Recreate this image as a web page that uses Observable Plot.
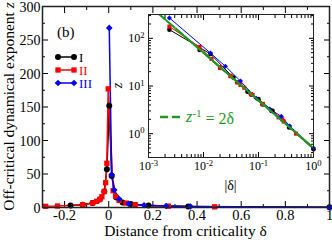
<!DOCTYPE html>
<html><head><meta charset="utf-8">
<script src="https://cdn.jsdelivr.net/npm/d3@7"></script>
<script src="https://cdn.jsdelivr.net/npm/@observablehq/plot@0.6"></script>
<style>
html,body{margin:0;padding:0;background:#fff;}
#wrap{position:relative;width:332px;height:240px;overflow:hidden;background:#fff;}
#wrap svg{position:absolute;}
</style></head><body><div id="wrap"></div>
<script>
const seriesNames = ["I", "II", "III"];
const seriesColors = ["#000000", "#ff0000", "#0000ff"];
const seriesSymbols = ["circle", "square", "diamond2"];

const deltaI = [-0.173, -0.118, -0.073, -0.041, -0.02, -0.0085, 0.0024, 0.0134, 0.035, 0.063, 0.10, 0.18, 0.36, 1.0];
const zI     = [3.0, 4.1, 6.6, 12, 24, 57, 152, 47, 15, 7.6, 5.3, 3.0, 1.35, 0.47];

const deltaII = [-0.286, -0.232, -0.118, -0.073, -0.055, -0.041, -0.031, -0.02, -0.014, -0.0085, -0.0024, 0.02, 0.031, 0.047, 0.078, 0.12, 0.27, 0.48];
const zII     = [1.8, 2.2, 4.2, 6.8, 9.2, 12, 16, 24, 37, 66, 177, 25, 16.5, 10.5, 6.5, 4.2, 2.0, 1.0];

const deltaIII = [0.0024, 0.0134, 0.025, 0.047, 0.09, 0.16, 0.26, 0.37, 1.0];
const zIII     = [268, 49, 26, 12.7, 5.6, 3.3, 2.3, 1.45, 0.5];

const fitDelta = [0.001, 1];
const fitZ = [500, 0.5];

const xTicks = [-0.2, 0, 0.2, 0.4, 0.6, 0.8, 1];
const xMinorTicks = [-0.3, -0.1, 0.1, 0.3, 0.5, 0.7, 0.9];
const yTicks = [0, 50, 100, 150, 200, 250, 300];
const yMinorTicks = [25, 75, 125, 175, 225, 275];
const insetXTicks = [0.001, 0.01, 0.1, 1];
const insetYTicks = [1, 10, 100];

const xLabel = "Distance from criticality δ";
const yLabelText = "Off-critical dynamical exponent ";
const yLabelVar = "z";
const panelLabel = "(b)";
const insetXLabel = "|δ|";

const font = "'Liberation Serif', 'Times New Roman', Times, serif";
const green = "#1f9a1f";

const rows = [];
[[deltaI, zI], [deltaII, zII], [deltaIII, zIII]].forEach(([ds, zs], i) =>
  ds.forEach((d, j) => rows.push({series: seriesNames[i], delta: d, ad: Math.abs(d), z: zs[j], branch: seriesNames[i] + (d < 0 ? "-" : "+")}))
);
const fitRows = fitDelta.map((d, i) => ({d, z: fitZ[i]}));

function minorLog(lo, hi) {
  const out = [];
  for (let e = Math.floor(Math.log10(lo)); e <= Math.ceil(Math.log10(hi)); e++)
    for (let k = 2; k < 10; k++) { const v = k * Math.pow(10, e); if (v > lo && v < hi) out.push(v); }
  return out;
}

const symFor = {circle: d3.symbolCircle, square: d3.symbolSquare, diamond2: d3.symbolDiamond2};

function mainDecor() {
  const g = d3.create("svg:g").attr("font-family", font).attr("text-anchor", "start");
  g.append("text").attr("x", 57).attr("y", 37).attr("font-size", 15).text(panelLabel);
  seriesNames.forEach((name, i) => {
    const y = 57 + i * 13;
    g.append("line").attr("x1", 58).attr("x2", 74).attr("y1", y).attr("y2", y)
      .attr("stroke", seriesColors[i]).attr("stroke-width", 1.5);
    [58, 74].forEach(x => g.append("path")
      .attr("d", d3.symbol(symFor[seriesSymbols[i]], 28)())
      .attr("transform", `translate(${x},${y})`).attr("fill", seriesColors[i]));
    g.append("text").attr("x", 79).attr("y", y + 4.5).attr("fill", seriesColors[i]).attr("font-size", 13).text(name);
  });
  const lab = g.append("g").attr("text-anchor", "middle").attr("font-size", 15.5).attr("fill", "black");
  lab.append("text").attr("x", 185.5).attr("y", 236).text(xLabel);
  const t = lab.append("text").attr("transform", "translate(14,106.5) rotate(-90)");
  t.append("tspan").text(yLabelText);
  t.append("tspan").attr("font-style", "italic").text(yLabelVar);
  return g.node();
}

function insetDecor() {
  const g = d3.create("svg:g").attr("font-family", font).attr("text-anchor", "start");
  g.append("line").attr("x1", 47).attr("x2", 68).attr("y1", 105).attr("y2", 105)
    .attr("stroke", green).attr("stroke-width", 2.5).attr("stroke-dasharray", "8,4");
  const t = g.append("text").attr("x", 73).attr("y", 110).attr("font-size", 16).attr("fill", green);
  t.append("tspan").attr("font-style", "italic").text("z");
  t.append("tspan").attr("dy", "-0.45em").attr("font-size", "0.7em").text("-1");
  t.append("tspan").attr("dy", "0.45em").text(" = 2δ");
  const lab = g.append("g").attr("text-anchor", "middle").attr("font-size", 14).attr("fill", "black");
  lab.append("text").attr("x", 117.5).attr("y", 178).text(insetXLabel);
  lab.append("text").attr("transform", "translate(9,73.5) rotate(-90)").attr("font-style", "italic").text(yLabelVar);
  return g.node();
}

const main = Plot.plot({
  width: 332, height: 240,
  marginLeft: 42, marginRight: 3, marginTop: 6, marginBottom: 33,
  style: `font-family:${font};font-size:14px;background:white;color:black;overflow:visible;`,
  x: {domain: [-0.3, 1], label: null},
  y: {domain: [0, 300], label: null},
  color: {domain: seriesNames, range: seriesColors},
  symbol: {domain: seriesNames, range: seriesSymbols},
  marks: [
    Plot.axisX(xTicks, {anchor: "bottom", tickSize: 0, tickPadding: 2, tickFormat: d => String(d), label: null, fontSize: 14.5}),
    Plot.axisX(xTicks, {anchor: "bottom", tickSize: -6, tickFormat: () => "", label: null}),
    Plot.axisX(xMinorTicks, {anchor: "bottom", tickSize: -3, tickFormat: () => "", label: null}),
    Plot.axisX(xTicks, {anchor: "top", tickSize: -6, tickFormat: () => "", label: null}),
    Plot.axisX(xMinorTicks, {anchor: "top", tickSize: -3, tickFormat: () => "", label: null}),
    Plot.axisY(yTicks, {anchor: "left", tickSize: 0, tickPadding: 2, dy: 1, tickFormat: d => String(d), label: null, fontSize: 14}),
    Plot.axisY(yTicks, {anchor: "left", tickSize: -6, tickFormat: () => "", label: null}),
    Plot.axisY(yMinorTicks, {anchor: "left", tickSize: -3, tickFormat: () => "", label: null}),
    Plot.axisY(yTicks, {anchor: "right", tickSize: -6, tickFormat: () => "", label: null}),
    Plot.axisY(yMinorTicks, {anchor: "right", tickSize: -3, tickFormat: () => "", label: null}),
    Plot.line(rows, {x: "delta", y: "z", stroke: "series", strokeWidth: 1.5}),
    Plot.dot(rows, {x: "delta", y: "z", fill: "series", symbol: "series", r: 3}),
    Plot.frame({stroke: "#222", strokeWidth: 1.5}),
    mainDecor
  ]
});

const yDom = [Math.pow(10, -0.5), Math.pow(10, 2.5)];
const inset = Plot.plot({
  width: 202, height: 182,
  marginLeft: 35, marginRight: 2, marginTop: 2, marginBottom: 37,
  style: `font-family:${font};font-size:12px;background:transparent;color:black;overflow:visible;`,
  x: {type: "log", domain: [0.001, 1], label: null},
  y: {type: "log", domain: yDom, label: null},
  color: {domain: seriesNames, range: seriesColors},
  symbol: {domain: seriesNames, range: seriesSymbols},
  marks: [
    Plot.frame({fill: "white"}),
    Plot.line(rows, {x: "ad", y: "z", z: "branch", stroke: "series", strokeWidth: 1}),
    Plot.dot(rows, {x: "ad", y: "z", fill: "series", symbol: "series", r: 2.3}),
    Plot.line(fitRows, {x: "d", y: "z", stroke: green, strokeWidth: 2.2, strokeDasharray: "10,2", clip: true}),
    Plot.axisX(insetXTicks, {anchor: "bottom", tickSize: 0, tickPadding: 4, tickFormat: d => "10^" + Math.round(Math.log10(d)), label: null, fontSize: 12}),
    Plot.axisX(insetXTicks, {anchor: "bottom", tickSize: -5, tickFormat: () => "", label: null}),
    Plot.axisX(minorLog(0.001, 1), {anchor: "bottom", tickSize: -3, tickFormat: () => "", label: null}),
    Plot.axisX(insetXTicks, {anchor: "top", tickSize: -5, tickFormat: () => "", label: null}),
    Plot.axisX(minorLog(0.001, 1), {anchor: "top", tickSize: -3, tickFormat: () => "", label: null}),
    Plot.axisY(insetYTicks, {anchor: "left", tickSize: 0, tickPadding: 4, tickFormat: d => "10^" + Math.round(Math.log10(d)), label: null, fontSize: 12}),
    Plot.axisY(insetYTicks, {anchor: "left", tickSize: -5, tickFormat: () => "", label: null}),
    Plot.axisY(minorLog(yDom[0], yDom[1]), {anchor: "left", tickSize: -3, tickFormat: () => "", label: null}),
    Plot.axisY(insetYTicks, {anchor: "right", tickSize: -5, tickFormat: () => "", label: null}),
    Plot.axisY(minorLog(yDom[0], yDom[1]), {anchor: "right", tickSize: -3, tickFormat: () => "", label: null}),
    Plot.frame({stroke: "#222", strokeWidth: 1}),
    insetDecor
  ]
});

function fixText(svg) {
  d3.select(svg).attr("font-family", font);
  d3.select(svg).selectAll("text").each(function () {
    this.style.fontFamily = font;
    this.style.fontVariant = "normal";
    const t = this.textContent;
    const m = t.match(/^10\^(-?\d+)$/);
    if (m) {
      this.textContent = "10";
      d3.select(this).append("tspan").attr("dy", "-0.5em").attr("font-size", "0.72em").text(m[1]);
    }
  });
}
fixText(main);
fixText(inset);

const wrap = document.getElementById("wrap");
main.style.left = "0px"; main.style.top = "0px";
inset.style.left = "113px"; inset.style.top = "12px";
wrap.appendChild(main);
wrap.appendChild(inset);
</script></body></html>
